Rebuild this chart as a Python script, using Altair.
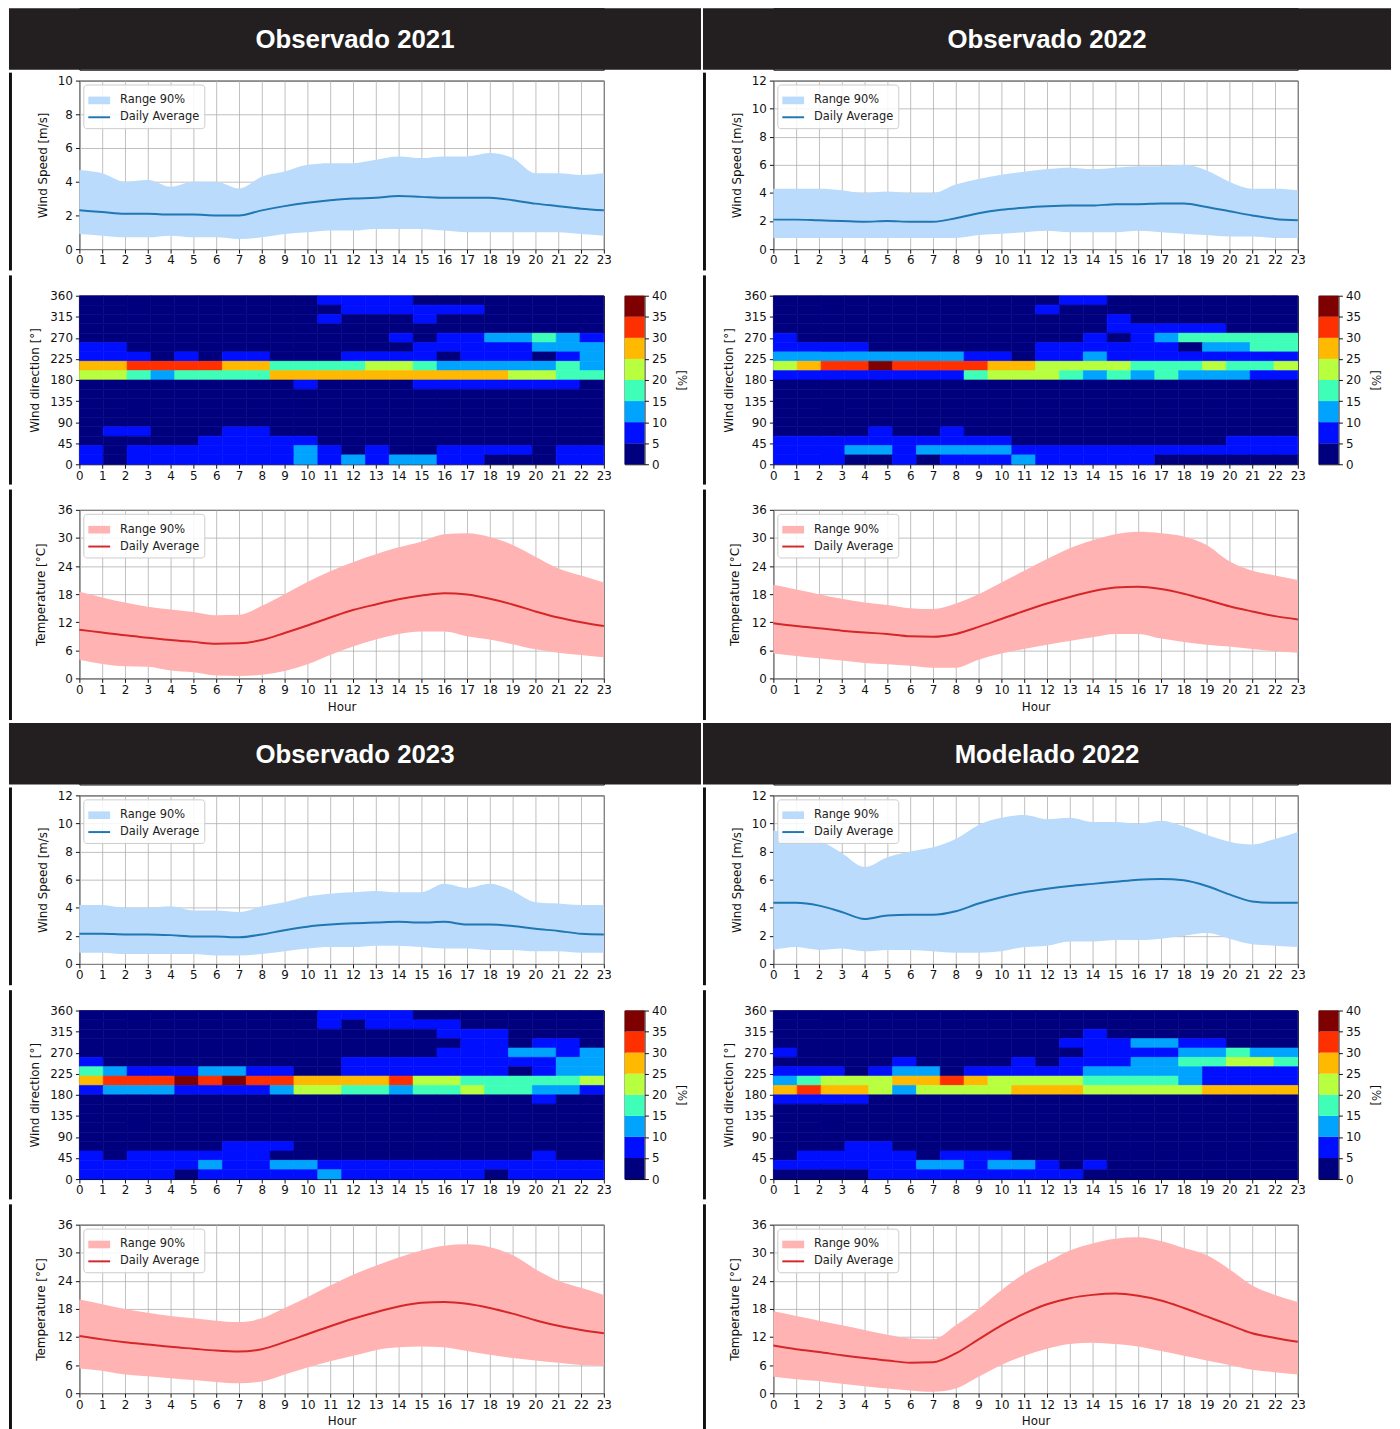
import altair as alt
import pandas as pd

HOURS = list(range(24))
TITLES = ["Observado 2021", "Observado 2022", "Observado 2023", "Modelado 2022"]

# ---------------- wind speed [m/s] ----------------
WS_HI_2021 = [4.7, 4.5, 4.0, 4.1, 3.7, 4.0, 4.0, 3.6, 4.3, 4.6, 5.0, 5.1, 5.1, 5.3, 5.5, 5.4, 5.5, 5.5, 5.7, 5.4, 4.5, 4.5, 4.4, 4.5]
WS_LO_2021 = [0.9, 0.8, 0.7, 0.7, 0.8, 0.7, 0.7, 0.6, 0.7, 0.9, 1.0, 1.1, 1.1, 1.2, 1.2, 1.2, 1.1, 1.0, 1.0, 1.0, 1.0, 1.0, 0.9, 0.8]
WS_AVG_2021 = [2.3, 2.2, 2.1, 2.1, 2.05, 2.05, 2.0, 2.0, 2.3, 2.55, 2.75, 2.9, 3.0, 3.05, 3.15, 3.1, 3.05, 3.05, 3.05, 2.9, 2.7, 2.55, 2.4, 2.3]

WS_HI_2022 = [4.3, 4.3, 4.3, 4.2, 4.0, 4.1, 4.0, 4.0, 4.6, 5.0, 5.3, 5.5, 5.7, 5.8, 5.7, 5.8, 5.9, 5.9, 6.0, 5.6, 4.8, 4.3, 4.3, 4.2]
WS_LO_2022 = [0.8, 0.8, 0.8, 0.8, 0.8, 0.8, 0.8, 0.8, 0.8, 1.0, 1.1, 1.2, 1.3, 1.2, 1.2, 1.2, 1.3, 1.2, 1.1, 1.0, 0.9, 0.9, 0.8, 0.8]
WS_AVG_2022 = [2.1, 2.1, 2.05, 2.0, 1.95, 2.0, 1.95, 1.95, 2.2, 2.55, 2.8, 2.95, 3.05, 3.1, 3.1, 3.2, 3.2, 3.25, 3.25, 3.0, 2.7, 2.4, 2.15, 2.05]

WS_HI_2023 = [4.2, 4.2, 4.0, 4.0, 4.1, 3.8, 3.8, 3.7, 4.1, 4.4, 4.8, 5.0, 5.1, 5.2, 5.1, 5.1, 5.7, 5.4, 5.7, 5.2, 4.4, 4.3, 4.2, 4.2]
WS_LO_2023 = [0.8, 0.8, 0.7, 0.7, 0.7, 0.7, 0.6, 0.6, 0.7, 0.9, 1.1, 1.2, 1.2, 1.3, 1.3, 1.2, 1.1, 1.1, 1.0, 1.0, 0.9, 0.9, 0.8, 0.8]
WS_AVG_2023 = [2.15, 2.15, 2.1, 2.1, 2.05, 1.95, 1.95, 1.9, 2.1, 2.4, 2.65, 2.8, 2.9, 2.95, 3.0, 2.95, 3.0, 2.8, 2.8, 2.7, 2.5, 2.35, 2.15, 2.1]

WS_HI_M2022 = [9.5, 9.2, 8.8, 7.9, 6.9, 7.6, 8.0, 8.3, 8.9, 9.9, 10.4, 10.6, 10.3, 10.4, 10.1, 10.1, 10.0, 10.2, 9.8, 9.2, 8.7, 8.5, 8.9, 9.4]
WS_LO_M2022 = [1.0, 1.2, 1.0, 1.1, 0.9, 1.0, 1.0, 0.9, 0.8, 0.8, 0.9, 1.2, 1.3, 1.6, 1.6, 1.7, 1.7, 1.8, 2.0, 2.2, 1.8, 1.4, 1.3, 1.2]
WS_AVG_M2022 = [4.35, 4.35, 4.15, 3.7, 3.2, 3.45, 3.5, 3.5, 3.75, 4.3, 4.75, 5.1, 5.35, 5.55, 5.7, 5.85, 6.0, 6.05, 5.95, 5.55, 4.95, 4.45, 4.35, 4.35]

# ---------------- temperature [°C] ----------------
T_HI_2021 = [18.5, 17.3, 16.2, 15.3, 14.7, 14.2, 13.5, 13.6, 15.5, 18.0, 20.6, 22.9, 24.8, 26.5, 28.0, 29.2, 30.8, 31.0, 30.2, 28.5, 26.0, 23.5, 22.0, 20.5]
T_LO_2021 = [4.0, 3.1, 2.6, 2.5, 1.7, 1.3, 0.6, 0.5, 0.8, 1.6, 3.0, 5.0, 6.8, 8.3, 9.5, 10.0, 10.0, 9.0, 8.3, 7.3, 6.2, 5.5, 5.0, 4.5]
T_AVG_2021 = [10.4, 9.8, 9.2, 8.7, 8.2, 7.8, 7.4, 7.5, 8.2, 9.7, 11.3, 13.0, 14.6, 15.8, 16.9, 17.7, 18.2, 17.9, 17.0, 15.8, 14.3, 13.0, 12.0, 11.2]

T_HI_2022 = [20.0, 19.0, 18.0, 17.0, 16.2, 15.7, 15.0, 14.8, 16.0, 18.0, 20.5, 23.0, 25.5, 27.8, 29.5, 30.8, 31.3, 31.0, 30.3, 28.5, 25.0, 23.0, 22.0, 21.0]
T_LO_2022 = [5.3, 4.8, 4.3, 3.8, 3.3, 3.0, 2.7, 2.3, 2.3, 4.0, 5.3, 6.3, 7.2, 8.0, 8.8, 9.5, 9.5, 8.5, 7.8, 7.2, 6.8, 6.3, 5.8, 5.5]
T_AVG_2022 = [11.8, 11.2, 10.7, 10.2, 9.8, 9.5, 9.0, 8.9, 9.5, 11.0, 12.7, 14.4, 16.0, 17.4, 18.6, 19.4, 19.6, 19.1, 18.1, 16.8, 15.4, 14.3, 13.3, 12.6]

T_HI_2023 = [20.0, 19.0, 18.0, 17.2, 16.5, 16.0, 15.5, 15.2, 16.0, 18.2, 20.5, 23.0, 25.3, 27.2, 29.0, 30.5, 31.5, 31.8, 31.2, 29.5, 26.5, 24.0, 22.5, 21.0]
T_LO_2023 = [5.3, 4.8, 4.0, 3.6, 3.2, 2.8, 2.4, 2.1, 2.5, 4.0, 5.5, 6.8, 8.0, 9.2, 9.8, 10.0, 9.8, 9.0, 8.2, 7.5, 7.0, 6.5, 6.0, 5.8]
T_AVG_2023 = [12.2, 11.5, 10.9, 10.4, 9.9, 9.5, 9.1, 8.9, 9.4, 10.9, 12.6, 14.3, 15.9, 17.3, 18.5, 19.3, 19.5, 19.1, 18.2, 17.0, 15.6, 14.4, 13.5, 12.8]

T_HI_M2022 = [17.5, 16.5, 15.5, 14.5, 13.5, 12.5, 11.7, 11.5, 14.5, 18.0, 22.0, 25.5, 28.0, 30.5, 32.0, 33.0, 33.3, 32.5, 31.0, 29.5, 26.5, 23.0, 21.0, 19.5]
T_LO_M2022 = [3.5, 3.0, 2.6, 2.0, 1.5, 1.0, 0.6, 0.3, 1.0, 3.5, 6.0, 8.0, 9.5, 10.5, 10.8, 10.5, 10.0, 9.0, 8.0, 7.0, 6.0, 5.0, 4.5, 4.0]
T_AVG_M2022 = [10.2, 9.4, 8.8, 8.1, 7.5, 7.0, 6.5, 6.6, 8.5, 11.5, 14.5, 17.0, 19.0, 20.3, 21.0, 21.3, 20.8, 19.8, 18.2, 16.4, 14.6, 12.8, 11.8, 11.0]

# ---------------- wind direction frequency [%] ----------------
# 18 direction bins of 20 deg (rows from 340-360 down to 0-20), 22 hour columns.
# Each digit is the colour class (0: 0-5 %, 1: 5-10 %, ... 7: 35-40 %).
HEAT_2021 = [
    "0000000000111100000000", "0000000000011111100000", "0000000000100010000000",
    "0000000000000000000000", "0000000000000101122321", "1100000000000011111222",
    "1110101100011110111012", "5566665533334432222232", "4432333355555555554433",
    "0000000001000011111110", "0000000000000000000000", "0000000000000000000000",
    "0000000000000000000000", "0000000000000000000000", "0110001100000000000000",
    "0000011111000000000000", "1011111112101001111011", "1011111112121221100011",
]
HEAT_2022 = [
    "0000000000001100000000", "0000000000010000000000", "0000000000000010000000",
    "0000000000000011111000", "1000000000000101233333", "1111000000011111102233",
    "2222222211011211111111", "4566766665544443334334", "1111111134443232322211",
    "0000000000000000000000", "0000000000000000000000", "0000000000000000000000",
    "0000000000000000000000", "0000000000000000000000", "0000100100000000000000",
    "1111111111000000000111", "1112212222111111111111", "1110010111211111000000",
]
HEAT_2023 = [
    "0000000000111100000000", "0000000000101111000000", "0000000000000001110000",
    "0000000000000000110110", "0000000000000001112212", "1000000000011111111122",
    "3211122110011111110122", "5666767665555644333334", "1222111124433233433221",
    "0000000000000000000100", "0000000000000000000000", "0000000000000000000000",
    "0000000000000000000000", "0000000000000000000000", "0000001110000000000000",
    "1011111100000000000100", "1111121122111111111111", "1111011111211111101111",
]
HEAT_M2022 = [
    "0000000000000000000000", "0000000000000000000000", "0000000000000100000000",
    "0000000000001112211000", "1000000000000111122322", "0000010000101112233443",
    "1110122011111222221111", "2344455654444333321111", "5655424444555444445555",
    "1111000000000000000000", "0000000000000000000000", "0000000000000000000000",
    "0000000000000000000000", "0000000000000000000000", "0001100000000000000000",
    "0111110111000000000000", "1111112212210100000000", "0000111111111000000000",
]

PCT_TICKS = [0, 5, 10, 15, 20, 25, 30, 35, 40]
JET = ["#00007f", "#0010ff", "#00a4ff", "#3fffb8", "#b7ff3f", "#ffb900", "#ff3000", "#7f0000"]
DIR_TICKS = [0, 45, 90, 135, 180, 225, 270, 315, 360]
RANGE_LBL = "Range 90%"
AVG_LBL = "Daily Average"

# ---------------- styling ----------------
W = 529
H = 170
LEFT = 71          # distance from the panel frame line to the plot area
FONT = "DejaVu Sans"
WIND_FILL, WIND_LINE = "#badbfb", "#1f77b4"
TEMP_FILL, TEMP_LINE = "#ffb3b3", "#d62728"
BORDER = "#111111"
HEAD_BG = "#231f20"

one_row = alt.Data(values=[{"z": 0}])


def ind(c):
    return c.resolve_scale(color="independent", stroke="independent").resolve_legend(
        color="independent", stroke="independent")


def series_legend():
    shape_expr = ("datum.value === '" + RANGE_LBL + "' ? 'M-1,-0.35L1,-0.35L1,0.35L-1,0.35Z'"
                  " : 'M-1,-0.09L1,-0.09L1,0.09L-1,0.09Z'")
    return alt.Legend(
        title=None, orient="top-left", offset=4, padding=5,
        fillColor="rgba(255,255,255,0.85)", strokeColor="#cccccc", cornerRadius=3,
        labelFont=FONT, labelFontSize=11.5, labelColor="#222222", labelOffset=10,
        rowPadding=0, symbolSize=484, symbolStrokeWidth=0, symbolOpacity=1,
        symbolType=alt.ExprRef(expr=shape_expr),
    )


def x_axis(title=None):
    kw = dict(values=HOURS, grid=True, labelFlush=False, labelOverlap=False,
              tickSize=4, labelPadding=2)
    if title:
        return alt.Axis(title=title, titlePadding=6, **kw)
    return alt.Axis(title=None, **kw)


def frame_rule(top, bottom):
    return alt.Chart(one_row).mark_rule(color=BORDER, strokeWidth=3).encode(
        x=alt.value(-LEFT + 1.5), y=alt.value(top), y2=alt.value(bottom))


def range_chart(hi, lo, avg, ymax, ystep, ytitle, tpad, fill_c, line_c, xtitle, rule_top, rule_bottom):
    df = pd.DataFrame({"hour": HOURS, "hi": hi, "lo": lo, "avg": avg})
    x = alt.X("hour:Q", scale=alt.Scale(domain=[0, 23], nice=False), axis=x_axis(xtitle))
    yticks = list(range(0, ymax + 1, ystep))
    yscale = alt.Scale(domain=[0, ymax], nice=False)
    yaxis = alt.Axis(values=yticks, grid=True, title=ytitle, labelOverlap=False,
                     titlePadding=tpad, tickSize=4, labelPadding=3)
    cscale = alt.Scale(domain=[RANGE_LBL, AVG_LBL], range=[fill_c, line_c])
    area = alt.Chart(df).transform_calculate(series="'" + RANGE_LBL + "'").mark_area(
        interpolate="monotone", opacity=1).encode(
        x=x,
        y=alt.Y("lo:Q", scale=yscale, axis=yaxis),
        y2="hi:Q",
        color=alt.Color("series:N", scale=cscale, legend=series_legend()),
    )
    line = alt.Chart(df).transform_calculate(series="'" + AVG_LBL + "'").mark_line(
        interpolate="monotone", strokeWidth=2).encode(
        x=x, y=alt.Y("avg:Q", scale=yscale, axis=yaxis),
        color=alt.Color("series:N", scale=cscale, legend=series_legend()))
    return alt.layer(area, line, frame_rule(rule_top, rule_bottom)).properties(width=W, height=H)


def heat_chart(rows):
    recs = []
    for r, s in enumerate(rows):
        k = len(rows) - 1 - r
        for c, ch in enumerate(s):
            recs.append({"h0": c * 23 / 22, "h1": (c + 1) * 23 / 22,
                         "d0": k * 20, "d1": k * 20 + 20, "pct": int(ch) * 5 + 2.5})
    df = pd.DataFrame(recs)
    cs = alt.Scale(type="threshold", domain=PCT_TICKS[1:-1], range=JET)
    rect = alt.Chart(df).mark_rect(strokeWidth=0.6).encode(
        x=alt.X("h0:Q", scale=alt.Scale(domain=[0, 23], nice=False),
                axis=alt.Axis(values=HOURS, grid=False, title=None, labelFlush=False,
                              labelOverlap=False, tickSize=4, labelPadding=2)),
        x2="h1:Q",
        y=alt.Y("d0:Q", scale=alt.Scale(domain=[0, 360], nice=False),
                axis=alt.Axis(values=DIR_TICKS, grid=False, title="Wind direction [°]",
                              labelOverlap=False, titlePadding=8, tickSize=4, labelPadding=3)),
        y2="d1:Q",
        color=alt.Color("pct:Q", scale=cs, legend=None),
        stroke=alt.Stroke("pct:Q", scale=cs, legend=None),
    )
    return alt.layer(rect, frame_rule(-20.5, H + 20.5)).properties(width=W, height=H)


def colorbar():
    df = pd.DataFrame({"lo": PCT_TICKS[:-1], "hi": PCT_TICKS[1:]})
    df["mid"] = (df["lo"] + df["hi"]) / 2
    cs = alt.Scale(type="threshold", domain=PCT_TICKS[1:-1], range=JET)
    return alt.Chart(df).mark_rect().encode(
        y=alt.Y("lo:Q", scale=alt.Scale(domain=[0, 40], nice=False),
                axis=alt.Axis(orient="right", values=PCT_TICKS, grid=False, title="[%]",
                              labelOverlap=False, titlePadding=8, tickSize=4, labelPadding=3)),
        y2="hi:Q",
        x=alt.value(0), x2=alt.value(20),
        color=alt.Color("mid:Q", scale=cs, legend=None),
    ).properties(width=20, height=H)


def header(title, w):
    d = alt.Data(values=[{"t": title}])
    band = alt.Chart(d).mark_rect(color=HEAD_BG).encode(
        x=alt.value(-LEFT), x2=alt.value(w - LEFT), y=alt.value(0), y2=alt.value(62))
    txt = alt.Chart(d).mark_text(font="Liberation Sans", fontSize=26, fontWeight="bold",
                                 color="white", baseline="middle").encode(
        x=alt.value(w / 2 - LEFT), y=alt.value(32), text="t:N")
    return alt.layer(band, txt).properties(width=W, height=62)


def panel(title, w, ws, heat_rows, temp, ws_max, bottom_row):
    ws_hi, ws_lo, ws_avg = ws
    t_hi, t_lo, t_avg = temp
    wind = range_chart(ws_hi, ws_lo, ws_avg, ws_max, 2, "Wind Speed [m/s]", 8,
                       WIND_FILL, WIND_LINE, None, -8, H + 21.5)
    heat_row = ind(alt.hconcat(heat_chart(heat_rows), colorbar(), spacing=21, bounds="flush"))
    temp_c = range_chart(t_hi, t_lo, t_avg, 36, 6, "Temperature [°C]", 10,
                         TEMP_FILL, TEMP_LINE, "Hour", -20.5, H + (40 if bottom_row else 42))
    body = ind(alt.vconcat(wind, heat_row, temp_c, spacing=0))
    return ind(alt.vconcat(header(title, w), body, spacing=0))


p1 = panel(TITLES[0], 698, (WS_HI_2021, WS_LO_2021, WS_AVG_2021), HEAT_2021,
           (T_HI_2021, T_LO_2021, T_AVG_2021), 10, False)
p2 = panel(TITLES[1], 694, (WS_HI_2022, WS_LO_2022, WS_AVG_2022), HEAT_2022,
           (T_HI_2022, T_LO_2022, T_AVG_2022), 12, False)
p3 = panel(TITLES[2], 698, (WS_HI_2023, WS_LO_2023, WS_AVG_2023), HEAT_2023,
           (T_HI_2023, T_LO_2023, T_AVG_2023), 12, True)
p4 = panel(TITLES[3], 694, (WS_HI_M2022, WS_LO_M2022, WS_AVG_M2022), HEAT_M2022,
           (T_HI_M2022, T_LO_M2022, T_AVG_M2022), 12, True)

chart = ind(alt.vconcat(ind(alt.hconcat(p1, p2, spacing=0)),
                        ind(alt.hconcat(p3, p4, spacing=0)), spacing=0))
chart = chart.properties(
    padding={"top": -7, "left": 0, "right": 0, "bottom": 0}
).configure_view(
    stroke="black", strokeWidth=1
).configure_axis(
    labelFont=FONT, labelFontSize=12, labelColor="#111111",
    titleFont=FONT, titleFontSize=12, titleFontWeight="normal", titleColor="#111111",
    tickColor="#111111", domain=False, gridColor="#b0b0b0", gridWidth=0.8, gridOpacity=1,
)

chart.save("out.html", embed_options={"renderer": "svg", "actions": False})
